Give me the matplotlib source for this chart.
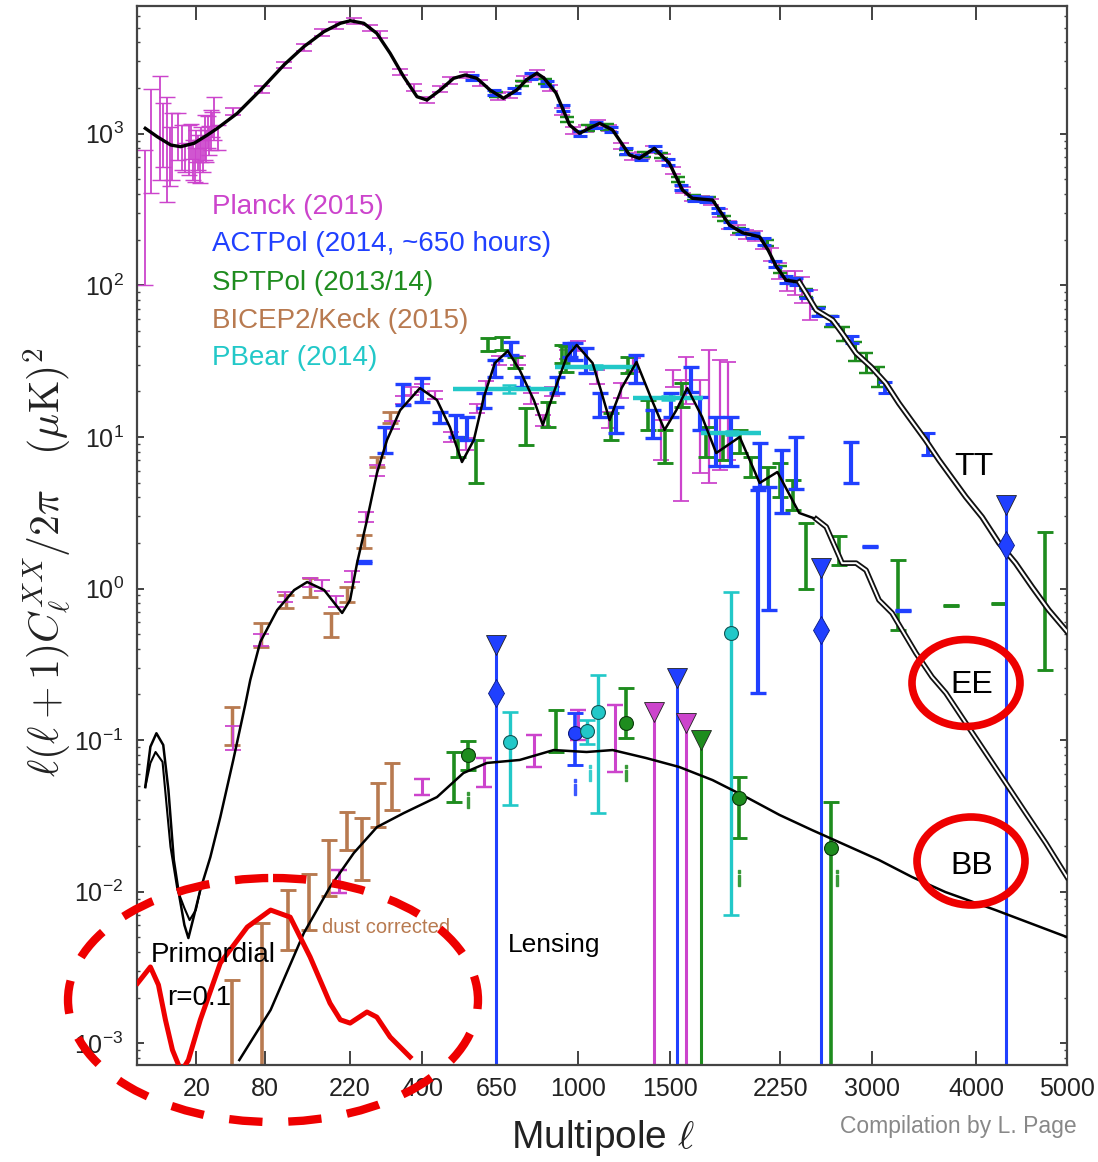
import numpy as np
import matplotlib.pyplot as plt
from matplotlib.patches import Ellipse
from matplotlib.ticker import NullLocator, LogLocator

plt.rcParams['font.family'] = ['Liberation Sans', 'DejaVu Sans']

# experiment colours
c_planck = '#cc44cc'
c_act = '#2040ff'
c_spt = '#1e8c1e'
c_bicep = '#b87a50'
c_pbear = '#22c8c8'

# ---------------- theory spectra ----------------
tt_ell = np.array([2.0, 4.4, 8.4, 12.2, 18.7, 26.7, 33.7, 50.5, 74.8, 104.6, 134.5, 168.7, 200, 220.6,
                   249.7, 280, 313, 348.5, 385.5, 414.6, 455, 498, 537, 578, 626, 677, 730, 772, 814,
                   845, 899, 962, 1010, 1060, 1110, 1177, 1268, 1323, 1409, 1498, 1578, 1640, 1700,
                   1771, 1884, 1975, 2097, 2160, 2220, 2293, 2395, 2448, 2530, 2663, 2743, 2861, 2993,
                   3122, 3242, 3336, 3494, 3624, 3892, 4060, 4237, 4418, 4601, 4789, 5000])
tt_dl = np.array([1085, 955, 842, 821, 864, 980, 1085, 1363, 1941, 2838, 3750, 4710, 5350, 5560,
                  5350, 4593, 3390, 2377, 1754, 1668, 1941, 2319, 2439, 2319, 1941, 1712, 1941, 2280, 2502,
                  2330, 1855, 1141, 1006, 1090, 1171, 1058, 724, 688, 801, 638, 425, 375, 370,
                  365, 250, 222, 209, 170, 133, 108, 105, 89, 68.7, 59, 48.4, 35.7, 28.9,
                  22.7, 16.7, 13.5, 9.54, 7.04, 4.02, 2.96, 2.0, 1.47, 1.023, 0.721, 0.52])

ee_ell = np.array([2.0, 2.9, 4.2, 6.0, 7.6, 9.5, 11.6, 13.9, 15.8, 18.8, 22.3, 28.7, 36, 46.8, 58.2,
                   63.4, 74.5, 95.5, 119.5, 139.9, 169.2, 203.6, 220, 234.9, 257, 280.4, 305, 339, 394,
                   445, 486, 526, 567, 603, 644, 694, 742, 801, 840, 888, 948, 996, 1074, 1115, 1161,
                   1225, 1307, 1390, 1469, 1540, 1608, 1703, 1795, 1955, 2097, 2228, 2395, 2530, 2611,
                   2743, 2862, 2948, 3062, 3180, 3402, 3556, 3692, 3892, 4099, 4312, 4530, 4754, 5000])
ee_dl = np.array([0.049, 0.0904, 0.111, 0.0929, 0.0469, 0.0162, 0.0095, 0.00603, 0.00495, 0.00702,
                  0.0103, 0.0169, 0.0311, 0.0739, 0.171, 0.249, 0.444, 0.721, 0.977, 1.104, 0.977, 0.690,
                  0.840, 1.473, 2.83, 5.78, 9.54, 15.0, 21.0, 17.5, 11.6, 6.83, 9.54, 18.3, 30.7, 36.9,
                  27.6, 17.5, 11.98, 19.5, 33.7, 40.4, 30.7, 20.5, 12.9, 21.0, 31.2, 18.0, 11.1, 15.0,
                  21.0, 13.5, 7.83, 9.99, 4.97, 5.87, 3.15, 2.87, 2.55, 1.47, 1.47, 1.32, 0.840, 0.689,
                  0.375, 0.261, 0.2045, 0.1297, 0.0822, 0.0521, 0.0330, 0.0210, 0.0125])

# second EE model, differs only at low multipoles (reionisation bump)
ee2_ell = np.array([2.0, 2.9, 4.0, 5.8, 8.3, 10.9, 13.9, 16.4, 19.7, 22.3])
ee2_dl = np.array([0.049, 0.0706, 0.0835, 0.0718, 0.0198, 0.0103, 0.0078, 0.0065, 0.00757, 0.0103])

bb_ell = np.array([52.4, 87, 134.5, 180, 227.8, 280.4, 348.5, 445, 531, 614, 742, 888, 1044, 1177,
                   1361, 1558, 1771, 2001, 2244, 2497, 2773, 3062, 3366, 3688, 4202, 5000])
bb_dl = np.array([0.000776, 0.00166, 0.00534, 0.01074, 0.0180, 0.0267, 0.0330, 0.0421, 0.0607, 0.0707,
                  0.074, 0.086, 0.0835, 0.086, 0.0762, 0.0665, 0.0545, 0.0421, 0.0321, 0.0255, 0.0203,
                  0.0162, 0.0125, 0.00995, 0.00757, 0.00502])

# primordial BB for r=0.1 (highlighted in red)
prim_ell = np.array([1.0, 2.9, 4.7, 6.65, 9.0, 12.5, 15.8, 22.3, 36, 60.3, 87, 113.6, 144.8, 180,
                     200, 220, 257, 280, 313, 366])
prim_dl = np.array([0.0025, 0.00319, 0.00243, 0.00143, 0.000904, 0.00065, 0.000776, 0.00143, 0.00339,
                    0.00585, 0.00757, 0.0068, 0.00371, 0.00184, 0.00143, 0.00136, 0.00161, 0.00149,
                    0.0011, 0.000813])

# ---------------- TT bandpowers ----------------
pl_ttlow_ell = [2, 3, 5, 6, 7, 8, 9, 11, 13, 14, 16, 17, 18, 19, 20, 21, 22, 23, 24, 25, 26, 27, 28,
                29, 30, 31, 34]
pl_ttlow = [394, 908, 1141, 1000, 842, 700, 781, 951, 805, 700, 781, 900, 672, 620, 842, 760, 672, 850,
            720, 980, 820, 1020, 900, 1090, 1150, 1270, 980]
pl_ttlow_lo = [100, 406, 495, 600, 355, 450, 495, 672, 576, 560, 533, 680, 495, 480, 650, 580, 473, 650,
               560, 672, 650, 800, 720, 781, 950, 908, 781]
pl_ttlow_hi = [781, 1972, 2403, 1600, 1746, 1100, 1370, 1370, 1141, 870, 1141, 1150, 908, 800, 1058, 980,
               908, 1100, 920, 1328, 1050, 1300, 1120, 1432, 1400, 1746, 1141]

pl_tt_ell = [47, 77, 105, 134, 166, 192, 228, 264, 288, 339, 376, 415, 455, 486, 544, 589, 655, 702,
             760, 814, 870, 925, 980, 1040, 1100, 1160, 1220, 1280, 1340, 1400, 1460, 1520, 1580, 1640,
             1700, 1760, 1820, 1880, 1940, 2000, 2060, 2120, 2180, 2240, 2300, 2360, 2420, 2480]
pl_tt = [1400, 1960, 2840, 3700, 4650, 5200, 5560, 5000, 4500, 2560, 2020, 1670, 1980, 2250, 2440, 2160,
         1760, 1800, 2300, 2500, 2000, 1400, 1050, 1080, 1170, 1090, 830, 710, 720, 790, 700, 570, 425,
         378, 372, 355, 300, 252, 232, 218, 212, 190, 160, 125, 108, 105, 95, 76]
pl_tt_err = [0.05] * 36 + [0.06, 0.06, 0.07, 0.07, 0.08, 0.08, 0.1, 0.12, 0.15, 0.18, 0.2, 0.22]

act_tt_ell = [560, 640, 720, 790, 860, 930, 1010, 1090, 1170, 1250, 1330, 1410, 1490, 1570, 1650, 1730,
              1810, 1890, 1970, 2050, 2130, 2210, 2290, 2370, 2450, 2540, 2660, 2830, 3120, 3520]
act_tt = [2360, 1880, 1920, 2400, 2150, 1480, 1006, 1140, 1070, 770, 695, 800, 650, 440, 375, 368, 310,
          250, 226, 214, 195, 138, 109, 106, 88, 67, 59, 44, 21.2, 9.1]
act_tt_err = [0.04] * 20 + [0.05, 0.05, 0.05, 0.05, 0.06, 0.06, 0.06, 0.06, 0.08, 0.17]

spt_tt_ell = [650, 750, 850, 950, 1050, 1150, 1250, 1350, 1450, 1550, 1650, 1750, 1850, 1950, 2050, 2150,
              2250, 2350, 2450, 2550, 2650, 2750, 2850, 2950, 3050]
spt_tt = [1820, 2150, 2220, 1240, 1090, 1110, 750, 730, 720, 500, 378, 367, 275, 230, 214, 190, 127, 107,
          89, 67, 58, 48, 37, 31, 25]
spt_tt_err = [0.04] * 16 + [0.05, 0.05, 0.06, 0.07, 0.08, 0.1, 0.14, 0.15, 0.15]

# ---------------- EE bandpowers ----------------
pl_ee_ell = [47, 75, 106, 144, 166, 192, 225, 255, 280, 318, 348, 370, 400, 438, 490, 540, 578, 610, 660,
             736, 790, 840, 880, 950, 1000, 1095, 1160, 1222, 1290, 1445, 1518, 1568, 1600, 1686, 1750,
             1817, 1873]
pl_ee = [0.10, 0.46, 0.88, 1.1, 1.05, 0.82, 1.2, 2.97, 6.0, 12.0, 17.5, 20, 21, 18.9, 10, 9.0, 15.4, 22,
         32, 32.2, 18, 12.9, 20, 35, 40, 25, 13, 20.3, 30, 9.5, 24.5, 10, 24, 12, 14, 14, 15]
pl_ee_lo = [0.086, 0.42, 0.82, 1.02, 0.97, 0.76, 1.1, 2.75, 5.5, 11.2, 16.5, 18.8, 19.8, 17.8, 9.2, 8.2,
            14.3, 20.5, 30, 30, 16.5, 11.8, 18.5, 32.5, 37, 22.5, 11.5, 18, 27, 7, 21.4, 3.8, 16.6, 5.75,
            4.95, 6.07, 7]
pl_ee_hi = [0.123, 0.50, 0.95, 1.18, 1.13, 0.89, 1.3, 3.2, 6.5, 12.8, 18.5, 21.3, 22.2, 20, 10.8, 9.8,
            16.5, 23.5, 34, 34.4, 19.5, 14, 21.5, 37.5, 43, 27.5, 14.5, 22.6, 33, 12.9, 27.7, 23.8, 33.8,
            23.8, 37.5, 32.2, 31.3]

act_ee_ell = [250, 300, 348, 400, 455, 505, 544, 603, 644, 705, 750, 903, 965, 990, 1043, 1110, 1196,
              1305, 1400, 1508, 1630, 1686, 1795, 1896, 2082, 2097, 2168, 2266, 2370, 2821, 2980, 3280]
act_ee = [1.5, 9.5, 19, 20.5, 13.4, 11.8, 11.4, 17.3, 28.4, 38.3, 23.1, 22, 37.5, 36.5, 32, 16.3, 13,
          28, 12.2, 16.3, 24, 14.3, 9.4, 9.4, 0.95, 6.5, 2.2, 5.1, 6.7, 6.8, 1.89, 0.72]
act_ee_lo = [1.47, 7.8, 16.3, 17.1, 12.3, 10, 9.5, 15.4, 25, 34.6, 21.4, 19.4, 33.8, 32, 26.3, 13.6,
             10.6, 22.6, 9.8, 13.6, 19.9, 11.1, 6.4, 6.4, 0.204, 4.7, 0.72, 3.15, 4.5, 4.97, 1.87, 0.713]
act_ee_hi = [1.53, 11.7, 22.5, 24.3, 14.7, 14, 13.6, 19.4, 32.2, 42.3, 25, 25, 41.5, 41.5, 38.5, 19.4,
             15.8, 34.6, 15, 19.4, 29, 18.3, 13.6, 13.6, 4.47, 9.1, 4.67, 8.2, 10, 9.3, 1.91, 0.727]

spt_ee_ell = [513, 573, 620, 670, 724, 770, 865, 925, 945, 1170, 1258, 1370, 1469, 1577, 1730, 1840, 1955,
              2035, 2160, 2244, 2345, 2448, 2720, 3236, 3740, 4237, 4750]
spt_ee = [8.6, 6.9, 40.4, 41.4, 31, 11.6, 14.1, 35.5, 33, 11.7, 30, 14, 8.6, 19, 9.3, 8.6, 9.3, 6.3,
          5.5, 5.2, 4.0, 1.7, 1.8, 0.9, 0.77, 0.80, 0.85]
spt_ee_lo = [7.4, 5, 36.6, 37.4, 28.3, 8.8, 11.7, 30.6, 27, 9.5, 26.3, 11.1, 6.7, 15.8, 7.4, 7, 7.8, 5.44,
             4.67, 4.0, 3.3, 1.0, 1.43, 0.53, 0.762, 0.792, 0.29]
spt_ee_hi = [10, 9.5, 44.6, 45.8, 33.8, 15.4, 17.1, 40.4, 40, 14.3, 33.8, 17.5, 11.1, 22.6, 11.7, 10.6,
             11.1, 7.4, 6.35, 6.7, 5.2, 2.7, 2.22, 1.54, 0.778, 0.808, 2.37]

bicep_ee_ell = [46, 75, 108, 144, 181, 213, 250, 280, 313]
bicep_ee = [0.125, 0.5, 0.82, 1.02, 0.58, 0.92, 2.03, 6.9, 13.5]
bicep_ee_lo = [0.093, 0.413, 0.74, 0.88, 0.48, 0.82, 1.84, 6.35, 12.3]
bicep_ee_hi = [0.166, 0.589, 0.9, 1.17, 0.686, 1.03, 2.25, 7.4, 14.7]

# PBear EE: wide bins
pb_ee_ell = [700, 1090, 1490, 1900]
pb_ee = [20.6, 29.0, 18.1, 10.6]
pb_ee_bin_lo = [497, 893, 1287, 1695]
pb_ee_bin_hi = [907, 1305, 1706, 2109]
pb_ee_err = [0.06, 0.03, 0.03, 0.03]

# ---------------- BB bandpowers ----------------
bicep_bb_ell = [46, 77, 110, 143, 179, 214, 246, 284, 318]
bicep_bb = [0.001, 0.0025, 0.0065, 0.0086, 0.0143, 0.0253, 0.019, 0.037, 0.049]
bicep_bb_lo = [1e-5, 1e-5, 0.00412, 0.00557, 0.00937, 0.0189, 0.012, 0.0268, 0.0346]
bicep_bb_hi = [0.00262, 0.0062, 0.0103, 0.01318, 0.0219, 0.0338, 0.0305, 0.0521, 0.0703]

pl_bb_ell = [197, 400, 603, 800, 1000, 1190]
pl_bb = [0.0117, 0.049, 0.061, 0.085, 0.126, 0.1]
pl_bb_lo = [0.0098, 0.0434, 0.0493, 0.0667, 0.10, 0.0617]
pl_bb_hi = [0.0139, 0.0558, 0.0757, 0.108, 0.158, 0.17]

spt_bb_bar_ell = [498, 900]
spt_bb_bar = [0.058, 0.115]
spt_bb_bar_lo = [0.0392, 0.084]
spt_bb_bar_hi = [0.0838, 0.158]

spt_bb_ell = [548, 1250, 1948, 2646]
spt_bb = [0.0797, 0.129, 0.0414, 0.0193]
spt_bb_lo = [0.064, 0.103, 0.0225, 1e-5]
spt_bb_hi = [0.098, 0.22, 0.0574, 0.0392]

act_bb_ell = [986]
act_bb = [0.111]
act_bb_lo = [0.0686]
act_bb_hi = [0.15]

pb_bb_ell = [701, 1046, 1101, 1896]
pb_bb = [0.0976, 0.114, 0.154, 0.506]
pb_bb_lo = [0.0373, 0.095, 0.0329, 0.00703]
pb_bb_hi = [0.154, 0.135, 0.2686, 0.952]

# upper limits: triangle on top, line down to zero
lim_ell = [648, 1544, 2568, 4312, 1404, 1600, 1694]
lim_top = [0.424, 0.256, 1.36, 3.55, 0.154, 0.129, 0.100]
lim_col = [c_act, c_act, c_act, c_act, c_planck, c_planck, c_spt]
act_dia_ell = [648, 2568, 4312]
act_dia = [0.2045, 0.532, 1.94]

# small negative-side marks
i_ell = [548, 986, 1059, 1250, 1950, 2702]
i_dl = [0.0403, 0.049, 0.0607, 0.0607, 0.0123, 0.0123]
i_col = [c_spt, c_act, c_pbear, c_spt, c_spt, c_spt]


def fwd(l):
    return np.power(np.clip(l, 0, None), 0.45)


def inv(u):
    return np.power(np.clip(u, 0, None), 1 / 0.45)


def bars(ax, ell, d, lo, hi, color, lw, cap=5, z=2):
    d = np.array(d, dtype=float)
    err = [d - np.array(lo), np.array(hi) - d]
    ax.errorbar(ell, d, yerr=err, fmt='none', ecolor=color, elinewidth=lw,
                capsize=cap, capthick=lw * 0.8, zorder=z)


def fbars(ax, ell, d, f, color, lw, cap=5):
    d = np.array(d, dtype=float)
    f = np.array(f)
    bars(ax, ell, d, d * (1 - f), d * (1 + f), color, lw, cap)


fig = plt.figure(figsize=(10.98, 11.62), dpi=100)
ax = fig.add_axes([0.1252, 0.0835, 0.8466, 0.9113])
ax.set_xscale('function', functions=(fwd, inv))
ax.set_yscale('log')
ax.set_xlim(0.97, 5000)
ax.set_ylim(7.2e-4, 6950)

# TT data
bars(ax, pl_ttlow_ell, pl_ttlow, pl_ttlow_lo, pl_ttlow_hi, c_planck, 1.3, 6)
fbars(ax, pl_tt_ell, pl_tt, pl_tt_err, c_planck, 1.5, 6)
fbars(ax, spt_tt_ell, spt_tt, spt_tt_err, c_spt, 2.2, 5)
fbars(ax, act_tt_ell, act_tt, act_tt_err, c_act, 2.8, 5)

# EE data
bars(ax, bicep_ee_ell, bicep_ee, bicep_ee_lo, bicep_ee_hi, c_bicep, 2.5, 6)
bars(ax, pl_ee_ell, pl_ee, pl_ee_lo, pl_ee_hi, c_planck, 1.6, 6)
bars(ax, spt_ee_ell, spt_ee, spt_ee_lo, spt_ee_hi, c_spt, 2.6, 6)
bars(ax, act_ee_ell, act_ee, act_ee_lo, act_ee_hi, c_act, 3.0, 6)
pb = np.array(pb_ee)
ax.errorbar(pb_ee_ell, pb,
            xerr=[np.array(pb_ee_ell) - np.array(pb_ee_bin_lo), np.array(pb_ee_bin_hi) - np.array(pb_ee_ell)],
            fmt='none', ecolor=c_pbear, elinewidth=3.2, capsize=0, zorder=2.5)
ax.errorbar(pb_ee_ell, pb, yerr=pb * np.array(pb_ee_err), fmt='none', ecolor=c_pbear,
            elinewidth=2, capsize=5, capthick=1.8, zorder=2.5)

# BB data
bars(ax, bicep_bb_ell, bicep_bb, bicep_bb_lo, bicep_bb_hi, c_bicep, 2.6, 6)
bars(ax, pl_bb_ell, pl_bb, pl_bb_lo, pl_bb_hi, c_planck, 2.2, 6)
bars(ax, spt_bb_bar_ell, spt_bb_bar, spt_bb_bar_lo, spt_bb_bar_hi, c_spt, 2.6, 6)
bars(ax, spt_bb_ell, spt_bb, spt_bb_lo, spt_bb_hi, c_spt, 2.6, 6)
bars(ax, act_bb_ell, act_bb, act_bb_lo, act_bb_hi, c_act, 2.6, 6)
bars(ax, pb_bb_ell, pb_bb, pb_bb_lo, pb_bb_hi, c_pbear, 2.4, 6)

ax.vlines(lim_ell, 1e-5, lim_top, colors=lim_col, lw=2.2, zorder=2)
for l, t, c in zip(lim_ell, lim_top, lim_col):
    ax.plot(l, t, marker='v', ms=15, color=c, mec='#222222', mew=0.6, zorder=4)
ax.plot(act_dia_ell, act_dia, ls='none', marker='d', ms=14, color=c_act, mec='#0a1a80', mew=0.6, zorder=4)
ax.plot(spt_bb_ell, spt_bb, ls='none', marker='o', ms=10, color=c_spt, mec='#0a3a0a', mew=0.8, zorder=4)
ax.plot(act_bb_ell, act_bb, ls='none', marker='o', ms=10, color=c_act, mec='#0a1a80', mew=0.8, zorder=4)
ax.plot(pb_bb_ell, pb_bb, ls='none', marker='o', ms=10, color=c_pbear, mec='#115555', mew=0.8, zorder=4)
for l, d, c in zip(i_ell, i_dl, i_col):
    ax.plot(l, d, marker='$\\mathrm{i}$', ms=11, color=c, alpha=0.8, zorder=4)

# theory curves
ax.plot(tt_ell, tt_dl, color='black', lw=2.4, zorder=3)
hi = tt_ell >= 2300
ax.plot(tt_ell[hi], tt_dl[hi], color='#111111', lw=4.2, zorder=3.1)
ax.plot(tt_ell[hi], tt_dl[hi], color='white', lw=1.5, zorder=3.2)
ax.plot(ee_ell, ee_dl, color='black', lw=1.8, zorder=3)
hi = ee_ell >= 2400
ax.plot(ee_ell[hi], ee_dl[hi], color='#111111', lw=4.0, zorder=3.1)
ax.plot(ee_ell[hi], ee_dl[hi], color='white', lw=1.4, zorder=3.2)
ax.plot(ee2_ell, ee2_dl, color='black', lw=1.5, zorder=3)
ax.plot(bb_ell, bb_dl, color='black', lw=1.8, zorder=3)
ax.plot(prim_ell, prim_dl, color='#ee0000', lw=3.6, zorder=5)

# axes styling
ax.set_xticks([20, 80, 220, 400, 650, 1000, 1500, 2250, 3000, 4000, 5000])
ax.set_xticklabels(['20', '80', '220', '400', '650', '1000', '1500', '2250', '3000', '4000', '5000'])
ax.xaxis.set_minor_locator(NullLocator())
ax.yaxis.set_major_locator(LogLocator(base=10, numticks=20))
ax.yaxis.set_minor_locator(LogLocator(base=10, subs=np.arange(2, 10), numticks=20))
ax.tick_params(axis='x', which='major', direction='in', length=10, width=1.2, top=True,
               labelsize=18, pad=9, colors='#222222')
ax.tick_params(axis='y', which='major', direction='in', length=5, width=1.2, right=True,
               labelsize=18, pad=10, colors='#222222')
ax.tick_params(axis='y', which='minor', direction='in', length=2.5, width=1.0, right=True, colors='#444444')
for s in ax.spines.values():
    s.set_color('#444444')
    s.set_linewidth(1.6)

# legend-style labels
ax.text(30, 328, 'Planck (2015)', color=c_planck, fontsize=20, va='center')
ax.text(30, 187, 'ACTPol (2014, ~650 hours)', color=c_act, fontsize=20, va='center')
ax.text(30, 104, 'SPTPol (2013/14)', color=c_spt, fontsize=20, va='center')
ax.text(30, 58, 'BICEP2/Keck (2015)', color=c_bicep, fontsize=20, va='center')
ax.text(30, 33, 'PBear (2014)', color=c_pbear, fontsize=20, va='center')

ax.text(3975, 6.33, 'TT', fontsize=23, ha='center', va='center', zorder=6)
ax.text(3950, 0.231, 'EE', fontsize=23, ha='center', va='center', zorder=6)
ax.text(3950, 0.0148, 'BB', fontsize=23, ha='center', va='center', zorder=6)
ax.text(2.9, 0.00382, 'Primordial', fontsize=20, va='center', zorder=6)
ax.text(7.3, 0.00199, 'r=0.1', fontsize=20, va='center', zorder=6)
ax.text(694, 0.00445, 'Lensing', fontsize=19, va='center', zorder=6)
ax.text(165, 0.00585, 'dust corrected', color=c_bicep, fontsize=14.5, va='center', zorder=6)

fig.text(47 / 1098, 1 - 562 / 1162, r'$\ell(\ell+1)C_\ell^{XX}/2\pi\quad(\mu{\rm K})^2$',
         rotation=90, ha='center', va='center', fontsize=30, math_fontfamily='cm', color='#222222')
fig.text(603 / 1098, 1 - 1138 / 1162, r'Multipole $\ell$', ha='center', va='center', fontsize=28,
         math_fontfamily='cm', color='#222222')
fig.text(840 / 1098, 1 - 1126 / 1162, 'Compilation by L. Page', ha='left', va='center', fontsize=16.5,
         color='#888888')

# red highlight rings, drawn in pixel space over the whole figure
ov = fig.add_axes([0, 0, 1, 1], zorder=10)
ov.set_xlim(0, 1098)
ov.set_ylim(1162, 0)
ov.axis('off')
ov.patch.set_alpha(0)
ov.add_patch(Ellipse((966, 683), 108, 87, fill=False, ec='#ee0000', lw=5.5))
ov.add_patch(Ellipse((971, 861), 108, 88, fill=False, ec='#ee0000', lw=5.5))
ov.add_patch(Ellipse((273, 1000), 410, 244, fill=False, ec='#ee0000', lw=6,
                     linestyle=(0, (4, 3.1))))

fig.savefig('out.png', dpi=100)
